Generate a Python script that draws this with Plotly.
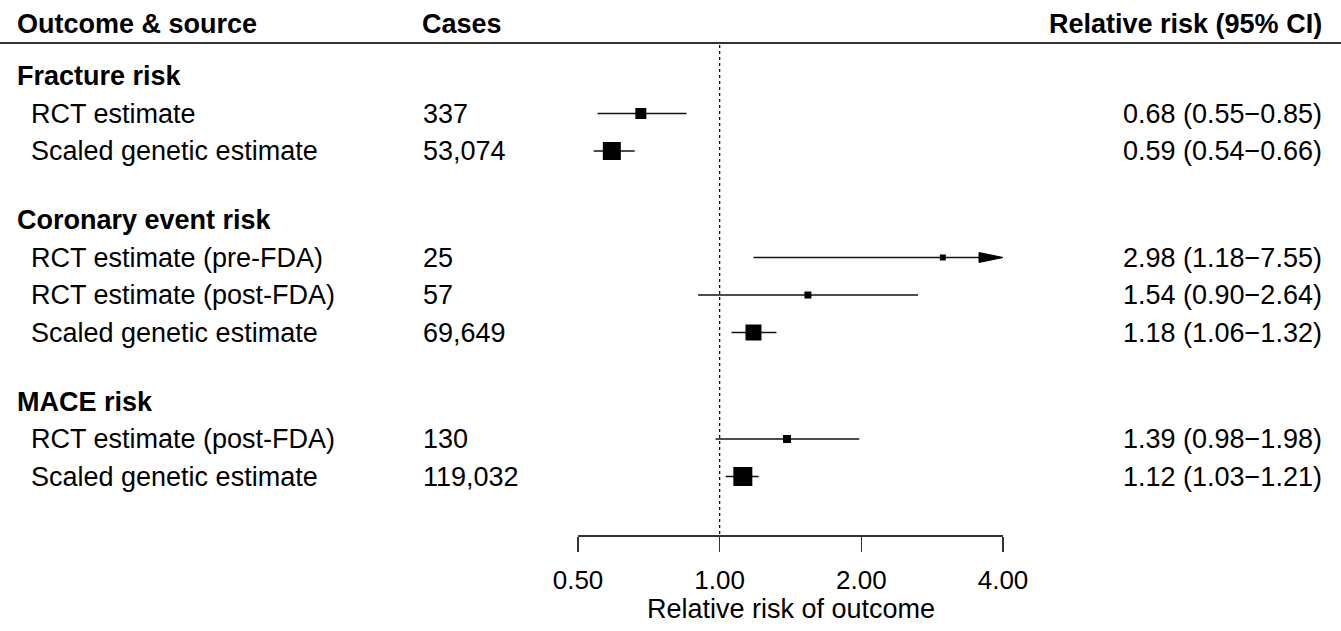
import math
import plotly.graph_objects as go

# ---------------- data ----------------
groups = ["Fracture risk", "Coronary event risk", "MACE risk"]
group_of_row = [0, 0, 1, 1, 1, 2, 2]
row_labels = [
    "RCT estimate",
    "Scaled genetic estimate",
    "RCT estimate (pre-FDA)",
    "RCT estimate (post-FDA)",
    "Scaled genetic estimate",
    "RCT estimate (post-FDA)",
    "Scaled genetic estimate",
]
cases = ["337", "53,074", "25", "57", "69,649", "130", "119,032"]
rr = [0.68, 0.59, 2.98, 1.54, 1.18, 1.39, 1.12]
lower = [0.55, 0.54, 1.18, 0.90, 1.06, 0.98, 1.03]
upper = [0.85, 0.66, 7.55, 2.64, 1.32, 1.98, 1.21]
tick_vals = [0.5, 1, 2, 4]
tick_text = ["0.50", "1.00", "2.00", "4.00"]

# ---------------- styling / layout ----------------
W, H = 1341, 631
X_MIN, X_MAX = 0.5, 4.0
AX_LEFT_PX, AX_RIGHT_PX = 578, 1003
AX_Y_PX = 535
box_sizes = [11, 18, 6, 7, 16, 8, 19]
FONT = "Liberation Sans, Arial, sans-serif"
FS = 27
TICK_FS = 26
INK = "#000000"
LINE_INK = "#111111"

def row_y(line, group):
    return 76 + line * 37.5 + group * 31.5

header_y = []
rows_y = []
line = 0
for g in range(len(groups)):
    header_y.append(row_y(line, g))
    line += 1
    for i, gg in enumerate(group_of_row):
        if gg == g:
            rows_y.append(row_y(line, g))
            line += 1

fig = go.Figure()

# reference line at RR = 1
fig.add_trace(go.Scatter(x=[1, 1], y=[45, AX_Y_PX], mode="lines",
                         line=dict(color=INK, width=1.2, dash="dot"),
                         hoverinfo="skip", showlegend=False))

px_per_log2 = (AX_RIGHT_PX - AX_LEFT_PX) / math.log2(X_MAX / X_MIN)
ARROW_LEN = 24
ARROW_HALF = 5

for i in range(len(rr)):
    y = rows_y[i]
    lo = max(lower[i], X_MIN)
    hi = upper[i]
    if hi > X_MAX:
        base = X_MAX * 2 ** (-ARROW_LEN / px_per_log2)
        fig.add_trace(go.Scatter(x=[lo, base], y=[y, y], mode="lines",
                                 line=dict(color=LINE_INK, width=1.7),
                                 hoverinfo="skip", showlegend=False))
        fig.add_trace(go.Scatter(x=[base, X_MAX, base, base],
                                 y=[y - ARROW_HALF, y, y + ARROW_HALF, y - ARROW_HALF],
                                 mode="lines", fill="toself", fillcolor=INK,
                                 line=dict(color=INK, width=1),
                                 hoverinfo="skip", showlegend=False))
    else:
        fig.add_trace(go.Scatter(x=[lo, hi], y=[y, y], mode="lines",
                                 line=dict(color=LINE_INK, width=1.7),
                                 hoverinfo="skip", showlegend=False))

fig.add_trace(go.Scatter(x=rr, y=rows_y, mode="markers",
                         marker=dict(symbol="square", size=box_sizes, color=INK,
                                     opacity=1, line=dict(width=0)),
                         hoverinfo="skip", showlegend=False))

ann = []
def text(xpx, y, s, bold=False, anchor="left"):
    ann.append(dict(x=xpx / W, xref="paper", y=y, yref="y",
                    text=("<b>%s</b>" % s) if bold else s,
                    showarrow=False, xanchor=anchor, yanchor="middle",
                    font=dict(family=FONT, size=FS, color=INK)))

RIGHT_PX = 1324
# column headers
text(15, 24, "Outcome & source", bold=True)
text(420, 24, "Cases", bold=True)
text(RIGHT_PX, 24, "Relative risk (95% CI)", bold=True, anchor="right")

for g, name in enumerate(groups):
    text(15, header_y[g], name, bold=True)

for i in range(len(rr)):
    y = rows_y[i]
    text(29, y, row_labels[i])
    text(421, y, cases[i])
    text(RIGHT_PX, y, "%.2f (%.2f\u2212%.2f)" % (rr[i], lower[i], upper[i]), anchor="right")

# axis title (centred on the axis)
ann.append(dict(x=math.log10(math.sqrt(X_MIN * X_MAX)), xref="x",
                y=1 - 609 / H, yref="paper",
                text="Relative risk of outcome", showarrow=False,
                xanchor="center", yanchor="middle",
                font=dict(family=FONT, size=FS, color=INK)))

fig.update_layout(
    width=W, height=H, autosize=False,
    margin=dict(l=0, r=0, t=0, b=0, pad=0),
    paper_bgcolor="white", plot_bgcolor="white",
    annotations=ann,
    shapes=[dict(type="line", xref="paper", yref="y", x0=0, x1=1, y0=43, y1=43,
                 line=dict(color="#333333", width=2))],
    xaxis=dict(type="log", range=[math.log10(X_MIN), math.log10(X_MAX)],
               domain=[AX_LEFT_PX / W, AX_RIGHT_PX / W],
               tickvals=tick_vals, ticktext=tick_text,
               ticks="outside", ticklen=15, tickwidth=1.5, tickcolor="#333333",
               showline=True, linecolor="#333333", linewidth=1.5,
               showgrid=False, zeroline=False, automargin=False,
               tickfont=dict(family=FONT, size=TICK_FS, color=INK),
               ticklabelstandoff=6),
    yaxis=dict(range=[AX_Y_PX, 0], domain=[1 - AX_Y_PX / H, 1],
               visible=False, showgrid=False, zeroline=False, automargin=False),
)

for tr in fig.data:
    tr.cliponaxis = False

fig.write_html("out.html", config={"displayModeBar": False, "staticPlot": True},
               post_script="document.body.style.margin='0';document.body.style.overflow='hidden';")
